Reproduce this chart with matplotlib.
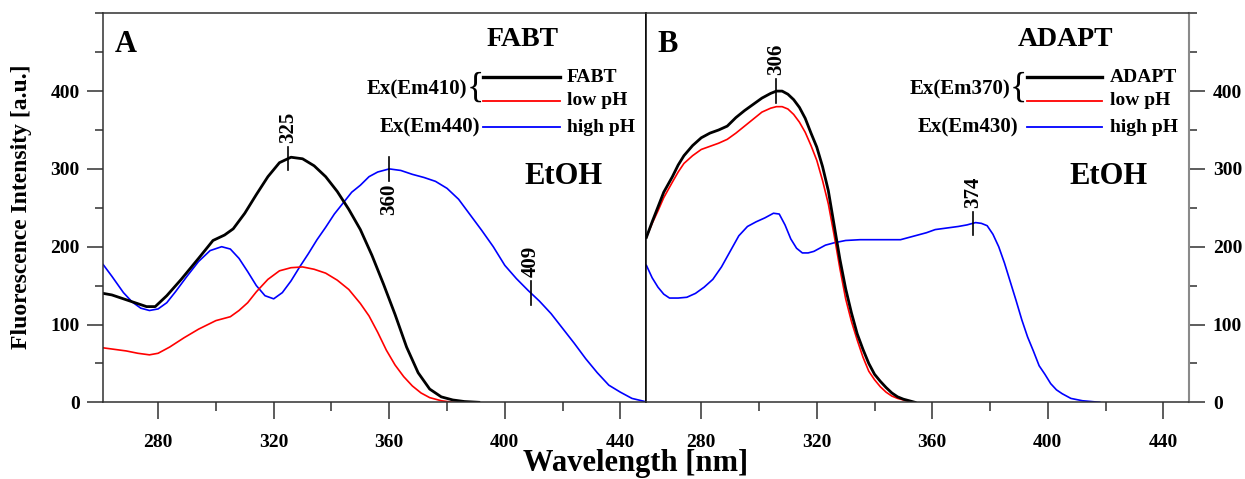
import numpy as np
import matplotlib
matplotlib.use("Agg")
import matplotlib.pyplot as plt
from matplotlib.ticker import MultipleLocator

plt.rcParams['font.family'] = ['Liberation Serif', 'DejaVu Serif']

# ---------------- Panel A (FABT) ----------------
wl_a_fabt = [261, 264, 268, 272, 276, 279, 283, 288, 294, 299, 303, 306, 310, 314, 318,
             322, 326, 330, 334, 338, 342, 346, 350, 354, 358, 362, 366, 370, 374, 378,
             382, 386, 391]
int_a_fabt = [140, 138, 133, 128, 123, 123, 137, 158, 185, 208, 215, 223, 243, 267, 290,
              308, 315, 313, 304, 290, 271, 248, 222, 189, 152, 113, 71, 38, 17, 7,
              3, 1, 0]

wl_a_low = [261, 265, 269, 273, 277, 280, 284, 289, 294, 300, 305, 308, 311, 314, 318,
            322, 326, 330, 334, 338, 342, 346, 350, 353, 356, 359, 362, 365, 368, 371,
            374, 378, 382, 391]
int_a_low = [70, 68, 66, 63, 61, 63, 71, 83, 94, 105, 110, 118, 128, 142, 158,
             169, 173, 174, 171, 166, 157, 145, 127, 111, 90, 67, 48, 33, 21, 12,
             6, 2, 0, 0]

wl_a_high = [261, 264, 268, 271, 274, 277, 280, 283, 286, 290, 294, 298, 302, 305, 308,
             311, 314, 317, 320, 323, 326, 329, 332, 335, 338, 341, 344, 347, 350, 353,
             356, 360, 364, 368, 372, 376, 380, 384, 388, 392, 396, 400, 404, 408, 412,
             416, 420, 424, 428, 432, 436, 440, 444, 448.5]
int_a_high = [177, 162, 141, 129, 121, 118, 120, 128, 142, 162, 181, 195, 200, 197, 185,
              168, 150, 137, 133, 141, 156, 174, 191, 209, 225, 242, 256, 270, 279, 290,
              296, 300, 298, 293, 289, 284, 275, 261, 241, 221, 200, 176, 159, 144, 130,
              114, 95, 76, 56, 38, 22, 13, 5, 1]

peaks_a = [(325, 'FABT', 'above'), (360, 'high', 'below'), (409, 'high', 'above')]

# ---------------- Panel B (ADAPT) ----------------
wl_b_adapt = [261, 263, 265, 267, 270, 272, 274, 277, 280, 283, 286, 289, 292, 295, 298,
              301, 304, 306, 308, 310, 312, 314, 316, 318, 320, 322, 324, 326, 328, 330,
              332, 334, 336, 338, 340, 342, 344, 346, 348, 350, 352, 354]
int_b_adapt = [212, 232, 251, 270, 290, 305, 317, 330, 340, 346, 350, 355, 366, 375, 383,
               391, 397, 400, 400, 396, 389, 379, 365, 346, 328, 303, 272, 228, 184, 146,
               115, 88, 68, 50, 36, 27, 19, 12, 7, 4, 2, 0]

wl_b_low = [261, 263, 265, 267, 270, 272, 274, 277, 280, 283, 286, 289, 292, 295, 298,
            301, 304, 306, 308, 310, 312, 314, 316, 318, 320, 322, 324, 326, 328, 330,
            332, 334, 336, 338, 340, 342, 344, 346, 348, 350, 352, 353]
int_b_low = [212, 230, 246, 263, 283, 296, 307, 317, 325, 329, 333, 338, 346, 355, 364,
             373, 378, 380, 380, 377, 370, 360, 347, 330, 311, 285, 255, 215, 172, 133,
             104, 80, 58, 40, 29, 20, 13, 8, 5, 3, 1, 0]

wl_b_high = [261, 263, 265, 267, 269, 272, 275, 278, 281, 284, 287, 290, 293, 296, 299,
             302, 305, 307, 309, 311, 313, 315, 317, 319, 321, 323, 326, 330, 335, 340,
             345, 349, 352, 355, 358, 361, 365, 369, 372, 375, 377, 379, 381, 383, 385,
             387, 389, 391, 393, 395, 397, 399, 401, 403, 405, 408, 412, 418]
int_b_high = [176, 160, 148, 139, 134, 134, 135, 140, 148, 158, 174, 194, 214, 226, 232,
              237, 243, 242, 228, 210, 198, 192, 192, 194, 198, 202, 205, 208, 209, 209,
              209, 209, 212, 215, 218, 222, 224, 226, 228, 231, 230, 227, 216, 200, 179,
              155, 131, 106, 84, 66, 47, 36, 24, 16, 11, 5, 2, 0]

peaks_b = [(306, 'ADAPT', 'above'), (374, 'high', 'above')]

x_major = [280, 320, 360, 400, 440]
y_major = [0, 100, 200, 300, 400]

# ---------------- Figure ----------------
W, H = 1245, 479
fig = plt.figure(figsize=(W / 100, H / 100), dpi=100)

ax_l, ax_b, ax_w, ax_h = 103.2, 402.3, 543.2, 389.0
axA = fig.add_axes([ax_l / W, 1 - ax_b / H, ax_w / W, ax_h / H])
axB = fig.add_axes([(ax_l + ax_w) / W, 1 - ax_b / H, 542.9 / W, ax_h / H])

black_lw, thin_lw = 2.0, 1.2
spine_col = '#303030'

for ax in (axA, axB):
    ax.set_xlim(261, 449)
    ax.set_ylim(0, 500)
    ax.set_xticks(x_major)
    ax.xaxis.set_minor_locator(MultipleLocator(20))
    ax.set_yticks(y_major)
    ax.yaxis.set_minor_locator(MultipleLocator(50))
    ax.tick_params(axis='x', which='major', direction='out', length=12, width=1.1,
                   color=spine_col, pad=10.5, labelsize=14)
    ax.tick_params(axis='x', which='minor', direction='out', length=6.5, width=1.1,
                   color=spine_col)
    ax.tick_params(axis='y', which='major', direction='out', length=11.5, width=1.1,
                   color=spine_col, pad=5.5, labelsize=14)
    ax.tick_params(axis='y', which='minor', direction='out', length=5.8, width=1.1,
                   color=spine_col)
    for s in ax.spines.values():
        s.set_color(spine_col)
        s.set_linewidth(1.1)

axA.tick_params(axis='y', which='both', left=True, right=False, labelleft=True, labelright=False)
axB.tick_params(axis='y', which='both', left=False, right=True, labelleft=False, labelright=True)
axB.spines['right'].set_color('#8a8a8a')
axB.spines['right'].set_linewidth(1.5)
axA.spines['right'].set_color('black')
axB.spines['left'].set_color('black')
for ax in (axA, axB):
    for lab in ax.get_xticklabels() + ax.get_yticklabels():
        lab.set_fontweight('bold')

# curves
axA.plot(wl_a_high, int_a_high, color='#0000ff', lw=thin_lw)
axA.plot(wl_a_low, int_a_low, color='#ff0000', lw=thin_lw)
axA.plot(wl_a_fabt, int_a_fabt, color='black', lw=black_lw)

axB.plot(wl_b_high, int_b_high, color='#0000ff', lw=thin_lw)
axB.plot(wl_b_low, int_b_low, color='#ff0000', lw=thin_lw)
axB.plot(wl_b_adapt, int_b_adapt, color='black', lw=black_lw)

series_a = {'FABT': (wl_a_fabt, int_a_fabt), 'high': (wl_a_high, int_a_high)}
series_b = {'ADAPT': (wl_b_adapt, int_b_adapt), 'high': (wl_b_high, int_b_high)}


def mark_peaks(ax, peaks, series):
    for x, key, pos in peaks:
        xs, ys = series[key]
        y = float(np.interp(x, xs, ys))
        ax.plot([x, x], [y - 15, y + 15], color='black', lw=1.2)
        if pos == 'above':
            ax.annotate(str(x), (x, y + 15), xytext=(0, 3), textcoords='offset points',
                        rotation=90, ha='center', va='bottom', fontsize=15,
                        fontweight='bold')
        else:
            ax.annotate(str(x), (x, y - 15), xytext=(0, -2), textcoords='offset points',
                        rotation=90, ha='center', va='top', fontsize=15,
                        fontweight='bold')


mark_peaks(axA, peaks_a, series_a)
mark_peaks(axB, peaks_b, series_b)


def legend_block(ax, title, name, ex1, ex2, x0, x1, brace_x, ex1_x, ex2_x):
    tr = ax.transAxes
    ax.text(0.772, 0.9314, title, transform=tr, ha='center', va='center',
            fontsize=20, fontweight='bold')
    ys = [0.8362, 0.7753, 0.7069]
    cols = ['black', '#ff0000', '#0000ff']
    lws = [2.4, 1.3, 1.3]
    labels = [name, 'low pH', 'high pH']
    for y, c, lw, lab in zip(ys, cols, lws, labels):
        ax.plot([x0, x1], [y, y], color=c, lw=lw, transform=tr, clip_on=False)
        ax.text(0.8535, y, lab, transform=tr, ha='left', va='center',
                fontsize=14, fontweight='bold')
    ax.text(ex1_x, 0.8054, ex1, transform=tr, ha='right', va='center',
            fontsize=15, fontweight='bold')
    ax.text(brace_x, 0.807, '{', transform=tr, ha='center', va='center',
            fontsize=26, fontweight='normal')
    ax.text(ex2_x, 0.7069, ex2, transform=tr, ha='right', va='center',
            fontsize=15, fontweight='bold')


legend_block(axA, 'FABT', 'FABT', 'Ex(Em410)', 'Ex(Em440)', 0.699, 0.841, 0.686, 0.6692, 0.6937)
legend_block(axB, 'ADAPT', 'ADAPT', 'Ex(Em370)', 'Ex(Em430)', 0.7005, 0.8387, 0.6845, 0.6697, 0.6851)

for ax, letter, solv_x, lx in ((axA, 'A', 0.8465, 0.042), (axB, 'B', 0.8503, 0.040)):
    ax.text(solv_x, 0.5805, 'EtOH', transform=ax.transAxes, ha='center', va='center',
            fontsize=22, fontweight='bold')
    ax.text(lx, 0.919, letter, transform=ax.transAxes, ha='center', va='center',
            fontsize=22, fontweight='bold')

fig.text(636 / W, 1 - 463 / H, 'Wavelength [nm]', ha='center', va='center',
         fontsize=22, fontweight='bold')
fig.text(22 / W, 1 - 207 / H, 'Fluorescence Intensity [a.u.]', ha='center', va='center',
         rotation=90, fontsize=17, fontweight='bold')

fig.savefig('out.png', dpi=100)
